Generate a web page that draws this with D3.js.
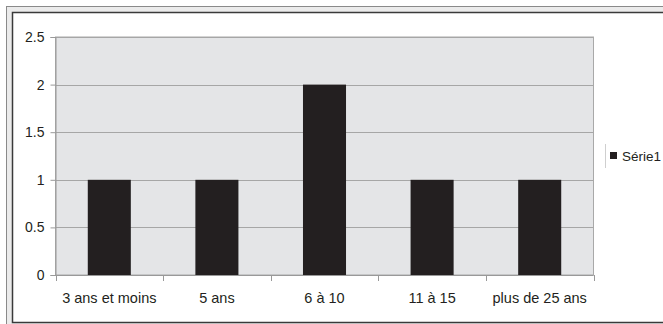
<!DOCTYPE html>
<html>
<head>
<meta charset="utf-8">
<script src="https://cdn.jsdelivr.net/npm/d3@7"></script>
<style>
  html, body { margin: 0; padding: 0; background: #fff; }
  svg { display: block; }
  text { font-family: "Liberation Sans", Arial, sans-serif; fill: #231f20; }
</style>
</head>
<body>
<svg id="chart" width="663" height="324"></svg>
<script>
// Chart data
const categories = ["3 ans et moins", "5 ans", "6 à 10", "11 à 15", "plus de 25 ans"];
const serie1 = [1, 1, 2, 1, 1];
const yTicks = [0, 0.5, 1, 1.5, 2, 2.5];
const seriesName = "Série1";

const svg = d3.select("#chart");

// Outer frame (grey band, then dark inner border)
svg.append("rect").attr("x", 6.5).attr("y", 6.5).attr("width", 720).attr("height", 340)
  .attr("fill", "#ebebeb").attr("stroke", "#8a8a8a").attr("stroke-width", 1);
svg.append("rect").attr("x", 12.5).attr("y", 12.5).attr("width", 720).attr("height", 310)
  .attr("fill", "#ffffff").attr("stroke", "#3a3a3a").attr("stroke-width", 1.5);

// Plot area
const plot = { left: 55.5, right: 593.5, top: 37, bottom: 275 };

const x = d3.scaleBand().domain(categories).range([plot.left, plot.right]).paddingInner(0.6).paddingOuter(0.3);
const xBand = d3.scaleBand().domain(categories).range([plot.left, plot.right]);
const y = d3.scaleLinear().domain([0, 2.5]).range([plot.bottom, plot.top]);

svg.append("rect")
  .attr("x", plot.left).attr("y", plot.top)
  .attr("width", plot.right - plot.left).attr("height", plot.bottom - plot.top)
  .attr("fill", "#e4e5e7").attr("stroke", "#a9a9a9").attr("stroke-width", 1);

// Horizontal gridlines
svg.append("g").selectAll("line").data(yTicks.filter(d => d > 0)).join("line")
  .attr("x1", plot.left).attr("x2", plot.right)
  .attr("y1", d => Math.round(y(d)) + 0.5).attr("y2", d => Math.round(y(d)) + 0.5)
  .attr("stroke", "#a6a6a6").attr("stroke-width", 1);

// Bars
svg.append("g").selectAll("rect").data(serie1).join("rect")
  .attr("x", (d, i) => x(categories[i]))
  .attr("width", x.bandwidth())
  .attr("y", d => y(d))
  .attr("height", d => y(0) - y(d))
  .attr("fill", "#231f20");

// Y axis
const yAxis = d3.axisLeft(y).tickValues(yTicks).tickSize(5).tickPadding(6)
  .tickFormat(d => String(d));
const gy = svg.append("g").attr("transform", `translate(${plot.left},0)`).call(yAxis);
gy.select(".domain").attr("stroke", "#999");
gy.selectAll(".tick line").attr("stroke", "#999");
gy.selectAll(".tick text").attr("font-size", 14).attr("fill", "#231f20")
  .attr("font-family", "Liberation Sans, Arial, sans-serif");

// X axis: ticks between categories
const xAxisLine = svg.append("g");
xAxisLine.append("line")
  .attr("x1", plot.left).attr("x2", plot.right)
  .attr("y1", plot.bottom + 0.5).attr("y2", plot.bottom + 0.5)
  .attr("stroke", "#999");
const boundaries = categories.map(c => xBand(c)).concat([plot.right]);
xAxisLine.selectAll("line.tk").data(boundaries).join("line").attr("class", "tk")
  .attr("x1", d => Math.round(d) + 0.5).attr("x2", d => Math.round(d) + 0.5)
  .attr("y1", plot.bottom).attr("y2", plot.bottom + 6)
  .attr("stroke", "#999");
xAxisLine.selectAll("text").data(categories).join("text")
  .attr("x", d => xBand(d) + xBand.bandwidth() / 2)
  .attr("y", 303)
  .attr("text-anchor", "middle")
  .attr("font-size", 14.5)
  .text(d => d);

// Legend
const lg = svg.append("g");
lg.append("line").attr("x1", 605.5).attr("x2", 605.5).attr("y1", 144).attr("y2", 168)
  .attr("stroke", "#cfcfcf");
lg.append("rect").attr("x", 610).attr("y", 152).attr("width", 7).attr("height", 7).attr("fill", "#231f20");
lg.append("text").attr("x", 622).attr("y", 160.5).attr("font-size", 13.5).text(seriesName);
</script>
</body>
</html>
